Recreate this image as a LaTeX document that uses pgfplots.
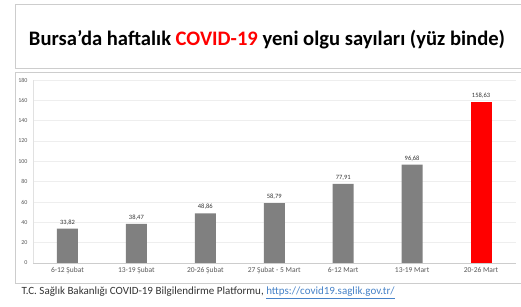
\documentclass[border=0pt]{standalone}
\usepackage{pgfplots}
\pgfplotsset{compat=1.18}
\usepackage{fontspec}
\setmainfont{Carlito}
\definecolor{bargray}{RGB}{128,128,128}
\definecolor{ticktext}{RGB}{89,89,89}
\definecolor{framegray}{RGB}{205,205,205}
\definecolor{gridgray}{RGB}{238,238,238}
\definecolor{linkblue}{RGB}{70,130,200}
\begin{document}
\begin{tikzpicture}[x=1pt,y=1pt]
\useasboundingbox (0,0) rectangle (521,307);
\fill[white] (0,0) rectangle (521,307);
\begin{scope}
\clip (0,0) rectangle (521,307);
% title box
\draw[framegray, line width=0.8pt] (15,239) rectangle (530,303);
% chart box
\draw[framegray, line width=0.8pt] (15,24) rectangle (530,235);
\end{scope}
\node[font=\bfseries\fontsize{20.6}{22}\selectfont, anchor=center] at (267,267)
  {Bursa'da haftalık \textcolor{red}{COVID-19} yeni olgu sayıları (yüz binde)};
\begin{axis}[
  at={(33pt,44pt)}, anchor=south west,
  scale only axis, width=482.5pt, height=183pt,
  xmin=-0.5, xmax=6.5, ymin=0, ymax=180,
  ytick={0,20,...,180},
  xtick={0,...,6},
  xticklabels={6-12 Şubat,13-19 Şubat,20-26 Şubat,27 Şubat - 5 Mart,6-12 Mart,13-19 Mart,20-26 Mart},
  xticklabel style={font=\fontsize{7.5}{8}\selectfont, text=ticktext, yshift=-1pt},
  yticklabel style={font=\fontsize{6}{7}\selectfont, text=ticktext, xshift=-2pt},
  /pgf/number format/assume math mode=true,
  major tick length=0pt,
  axis x line*=bottom, axis y line*=left,
  x axis line style={-, draw=framegray},
  y axis line style={-, draw=framegray!60},
  ymajorgrids, grid style={gridgray, line width=0.4pt},
  ybar, bar width=21pt,
  nodes near coords={\pgfmathprintnumber[use comma,fixed,fixed zerofill,precision=2,assume math mode=true]{\pgfplotspointmeta}},
  every node near coord/.append style={font=\fontsize{6.5}{7}\selectfont, text=black!80},
]
\addplot[fill=bargray, draw=none, bar shift=0pt] coordinates {
  (0,33.82) (1,38.47) (2,48.86) (3,58.79) (4,77.91) (5,96.68)};
\addplot[fill=red, draw=none, bar shift=0pt] coordinates {(6,158.63)};
\end{axis}
\node[anchor=west, font=\fontsize{11}{12}\selectfont, text=black!80] at (18,14)
  {T.C. Sağlık Bakanlığı COVID-19 Bilgilendirme Platformu, \textcolor{linkblue}{\underline{https://covid19.saglik.gov.tr/}}};
\end{tikzpicture}
\end{document}
